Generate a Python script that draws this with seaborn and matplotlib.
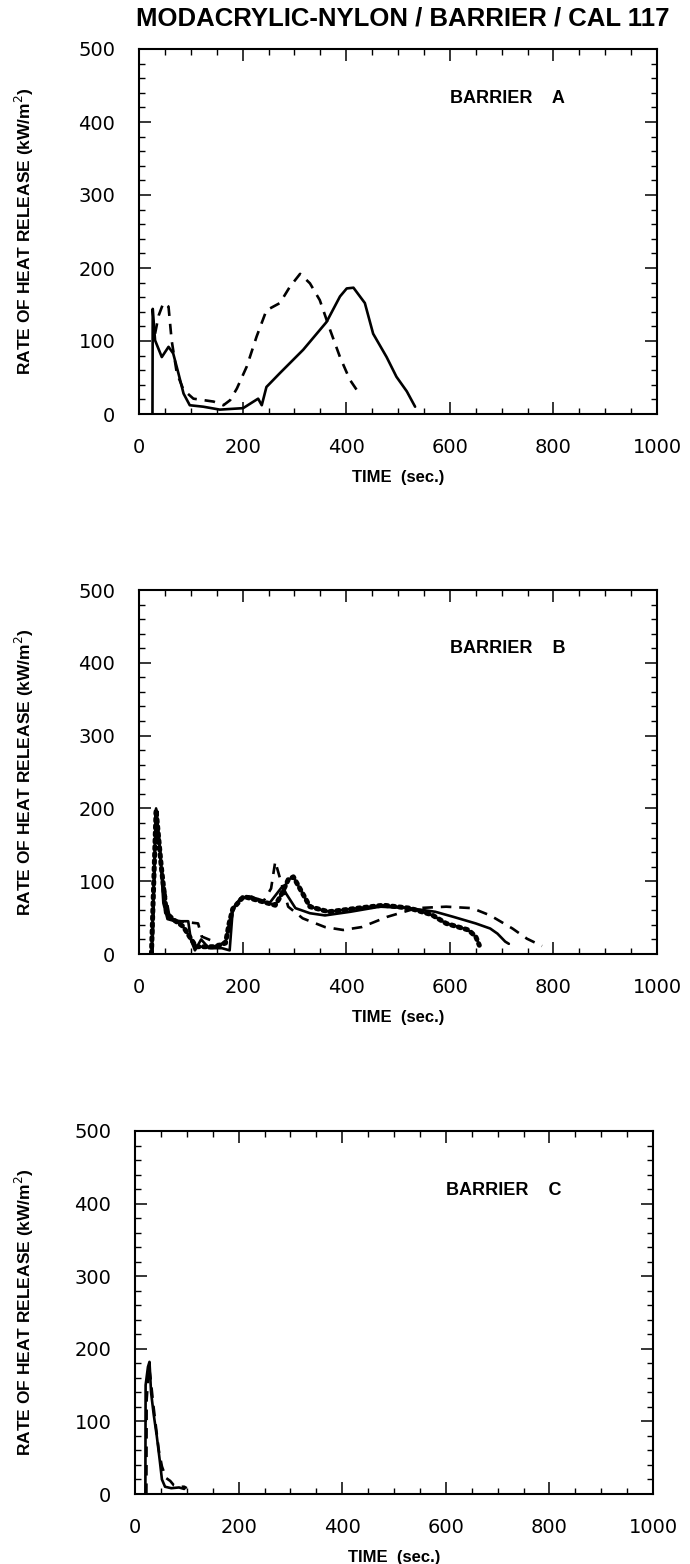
import numpy as np
import pandas as pd
import matplotlib
matplotlib.use("Agg")
import matplotlib.pyplot as plt
import seaborn as sns
from matplotlib.ticker import MultipleLocator

# ---------------- data ----------------
title = "MODACRYLIC-NYLON / BARRIER / CAL 117"
xlabel = "TIME  (sec.)"
ylabel = "RATE OF HEAT RELEASE (kW/m$^2$)"
panel_labels = ["BARRIER    A", "BARRIER    B", "BARRIER    C"]
x_ticks = [0, 200, 400, 600, 800, 1000]
y_ticks = [0, 100, 200, 300, 400, 500]

# Barrier A
a_solid_t = [26, 26.5, 31, 44, 57, 66, 76, 86, 98, 124, 156, 201, 221, 230, 237, 246, 272,
             317, 362, 388, 401, 414, 436, 452, 478, 497, 517, 533]
a_solid_v = [0, 144, 101, 78, 92, 83, 56, 28, 12, 10, 6, 8, 17, 21, 12, 37, 56,
             88, 126, 161, 172, 173, 152, 110, 78, 51, 31, 10]
a_dash_t = [31, 38, 47, 57, 63, 73, 86, 105, 144, 163, 176, 189, 208, 227, 246, 272, 291,
            311, 330, 349, 369, 388, 407, 427]
a_dash_v = [110, 135, 152, 147, 101, 56, 33, 21, 17, 12, 19, 35, 65, 106, 142, 152, 174,
            192, 179, 156, 115, 78, 47, 26]

# Barrier B
b_solid_t = [25, 33, 40, 47, 55, 70, 95, 100, 108, 120, 135, 160, 175, 181, 195, 217, 238,
             252, 277, 284, 302, 330, 359, 408, 465, 522, 572, 607, 650, 678, 692, 707, 714]
b_solid_v = [0, 200, 150, 70, 48, 45, 45, 20, 5, 20, 8, 8, 5, 61, 76, 79, 72,
             70, 93, 83, 63, 56, 53, 58, 65, 63, 58, 51, 42, 35, 28, 17, 14]
b_dash_t = [26, 33, 46, 60, 90, 114, 121, 138, 156, 170, 181, 195, 217, 240, 255, 263, 273,
            288, 316, 359, 394, 430, 479, 536, 593, 643, 678, 721, 749, 778]
b_dash_v = [0, 198, 102, 47, 44, 42, 24, 19, 12, 20, 62, 76, 80, 72, 90, 127, 102,
            65, 49, 37, 33, 37, 51, 63, 65, 63, 53, 35, 21, 11]
b_dot_t = [24, 33, 43, 53, 67, 85, 110, 146, 167, 174, 181, 202, 238, 263, 273, 288, 298,
           316, 330, 366, 423, 472, 522, 565, 593, 636, 650, 657]
b_dot_v = [0, 198, 120, 56, 47, 38, 10, 10, 15, 42, 62, 79, 72, 67, 79, 102, 106,
           83, 65, 58, 63, 67, 63, 54, 42, 33, 24, 12]

# Barrier C
c_solid_t = [20, 20.5, 25, 28, 31, 36, 42, 48, 52, 58, 70, 85, 95]
c_solid_v = [0, 150, 175, 182, 140, 110, 80, 45, 20, 10, 8, 9, 7]
c_dash_t = [22, 22.5, 27, 30, 35, 40, 46, 52, 60, 68, 75, 85, 95, 100]
c_dash_v = [0, 130, 175, 160, 125, 95, 60, 38, 22, 18, 12, 10, 10, 8]

# ---------------- style ----------------
sns.set_style("ticks")
plt.rcParams['font.family'] = ['DejaVu Sans']
plt.rcParams['text.color'] = 'black'
plt.rcParams['axes.labelcolor'] = 'black'
plt.rcParams['xtick.color'] = 'black'
plt.rcParams['ytick.color'] = 'black'
bold_font = ['Liberation Sans Narrow', 'Liberation Sans', 'DejaVu Sans']

W, H = 690, 1564
fig = plt.figure(figsize=(W / 100, H / 100), dpi=100)

# axes rectangles in pixels: left, top, right, bottom
rects = [(139, 49, 657, 414), (139, 590, 657, 954), (135, 1131, 653, 1494)]

panels = [
    [(a_solid_t, a_solid_v, 'solid'), (a_dash_t, a_dash_v, 'dash')],
    [(b_solid_t, b_solid_v, 'solid'), (b_dash_t, b_dash_v, 'dash'), (b_dot_t, b_dot_v, 'dot')],
    [(c_solid_t, c_solid_v, 'solid'), (c_dash_t, c_dash_v, 'dash')],
]
label_y = [432, 420, 418]

for i, (rect, series) in enumerate(zip(rects, panels)):
    l, t, r, b = rect
    ax = fig.add_axes([l / W, (H - b) / H, (r - l) / W, (b - t) / H])
    for (tt, vv, kind) in series:
        df = pd.DataFrame({"t": tt, "v": vv})
        if kind == 'solid':
            sns.lineplot(data=df, x="t", y="v", ax=ax, sort=False, estimator=None,
                         color="black", linewidth=1.9)
        elif kind == 'dash':
            sns.lineplot(data=df, x="t", y="v", ax=ax, sort=False, estimator=None,
                         color="black", linewidth=1.9, linestyle=(0, (4, 3)))
        else:
            sns.lineplot(data=df, x="t", y="v", ax=ax, sort=False, estimator=None,
                         color="black", linewidth=3.6, linestyle=(0, (0.5, 0.9)))
            ax.lines[-1].set_dash_capstyle('round')
    ax.set_xlim(0, 1000)
    ax.set_ylim(0, 500)
    ax.set_xticks(x_ticks)
    ax.set_yticks(y_ticks)
    ax.xaxis.set_minor_locator(MultipleLocator(50))
    ax.yaxis.set_minor_locator(MultipleLocator(20))
    ax.tick_params(which='both', direction='in', top=True, right=True, color='black')
    ax.tick_params(which='major', length=8.6, width=1.1, labelsize=14, pad=17,
                   labelcolor='black')
    ax.tick_params(which='minor', length=4.3, width=1.0)
    for s in ax.spines.values():
        s.set_visible(True)
        s.set_linewidth(1.5)
        s.set_color('black')
    ax.set_xlabel(xlabel, fontsize=12, fontweight='bold', family=bold_font, color='black')
    ax.set_ylabel(ylabel, fontsize=12.5, fontweight='bold', family=bold_font, color='black')
    ax.xaxis.set_label_coords(0.5, -56 / (b - t))
    ax.yaxis.set_label_coords((36 - l) / (r - l), 0.5)
    ax.text(0.60, label_y[i], panel_labels[i], transform=ax.get_yaxis_transform(),
            fontsize=13, fontweight='bold', family=bold_font, va='center', ha='left',
            color='black')

fig.text(403 / W, 1 - 18 / H, title, ha='center', va='center', fontsize=18.5,
         fontweight='bold', family=bold_font, color='black')

fig.savefig("out.png", dpi=100, facecolor='white')
